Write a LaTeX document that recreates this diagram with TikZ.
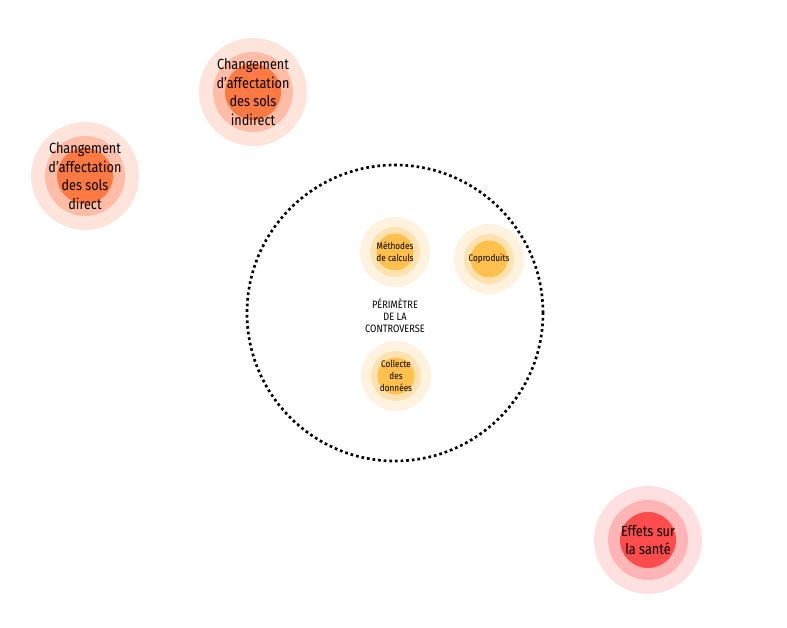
\documentclass[tikz,border=0pt]{standalone}
\usepackage{fontspec}
\setmainfont[FakeStretch=0.86]{Fira Sans}
\usepackage{xcolor}
\usetikzlibrary{positioning}
\definecolor{coralcore}{RGB}{255,122,66}
\definecolor{coralring}{RGB}{255,188,166}
\definecolor{coralhalo}{RGB}{255,228,219}
\definecolor{redcore}{RGB}{255,76,76}
\definecolor{redring}{RGB}{255,181,181}
\definecolor{redhalo}{RGB}{255,224,224}
\definecolor{ambercore}{RGB}{255,192,78}
\definecolor{amberring}{RGB}{255,226,176}
\definecolor{amberhalo}{RGB}{255,243,224}

\begin{document}
\begin{tikzpicture}[
        x=0.025cm, y=-0.025cm,
        disc/.style={circle, inner sep=0pt, draw=none},
        halo/.style={disc, minimum size=108*0.025cm},
        ring/.style={disc, minimum size=80*0.025cm},
        core/.style={disc, minimum size=56*0.025cm},
        smallhalo/.style={disc, minimum size=70*0.025cm},
        smallring/.style={disc, minimum size=50*0.025cm},
        smallcore/.style={disc, minimum size=37*0.025cm},
        biglabel/.style={align=center, font=\fontsize{10.5}{13.2}\selectfont, inner sep=0pt},
        smalllabel/.style={align=center, font=\fontsize{6.8}{8.4}\selectfont, inner sep=0pt},
        perimeter/.style={circle, draw=black, line width=1.9pt, dash pattern=on 1.9pt off 2.1pt, minimum size=296*0.025cm, inner sep=0pt}
    ]
    \useasboundingbox (0,0) rectangle (787,628);

    % controverse perimeter
    \node[perimeter] (perim) at (395,313) {};
    \node[align=center, font=\fontsize{7.6}{8.6}\selectfont, inner sep=0pt] (perimlabel) at (395,316) {PÉRIMÈTRE\\DE LA\\CONTROVERSE};

    % land-use change, indirect
    \node[halo, fill=coralhalo] (indirectHalo) at (253,92) {};
    \node[ring, fill=coralring] (indirectRing) at (indirectHalo) {};
    \node[core, fill=coralcore] (indirectCore) at (indirectHalo) {};
    \node[biglabel] (indirect) at (indirectHalo) {Changement\\d'affectation\\des sols\\indirect};

    % land-use change, direct
    \node[halo, fill=coralhalo] (directHalo) at (85,176) {};
    \node[ring, fill=coralring] (directRing) at (directHalo) {};
    \node[core, fill=coralcore] (directCore) at (directHalo) {};
    \node[biglabel] (direct) at (directHalo) {Changement\\d'affectation\\des sols\\direct};

    % health effects
    \node[halo, fill=redhalo] (santeHalo) at (648,540) {};
    \node[ring, fill=redring] (santeRing) at (santeHalo) {};
    \node[core, fill=redcore] (santeCore) at (santeHalo) {};
    \node[biglabel] (sante) at (santeHalo) {Effets sur\\la santé};

    % inside the perimeter
    \node[smallhalo, fill=amberhalo] (methodesHalo) at (395,252) {};
    \node[smallring, fill=amberring] (methodesRing) at (methodesHalo) {};
    \node[smallcore, fill=ambercore] (methodesCore) at (methodesHalo) {};
    \node[smalllabel] (methodes) at (methodesHalo) {Méthodes\\de calculs};

    \node[smallhalo, fill=amberhalo] (coproduitsHalo) at (489,259) {};
    \node[smallring, fill=amberring] (coproduitsRing) at (coproduitsHalo) {};
    \node[smallcore, fill=ambercore] (coproduitsCore) at (coproduitsHalo) {};
    \node[smalllabel] (coproduits) at (coproduitsHalo) {Coproduits};

    \node[smallhalo, fill=amberhalo] (collecteHalo) at (396,376) {};
    \node[smallring, fill=amberring] (collecteRing) at (collecteHalo) {};
    \node[smallcore, fill=ambercore] (collecteCore) at (collecteHalo) {};
    \node[smalllabel] (collecte) at (collecteHalo) {Collecte\\des\\données};
\end{tikzpicture}
\end{document}
